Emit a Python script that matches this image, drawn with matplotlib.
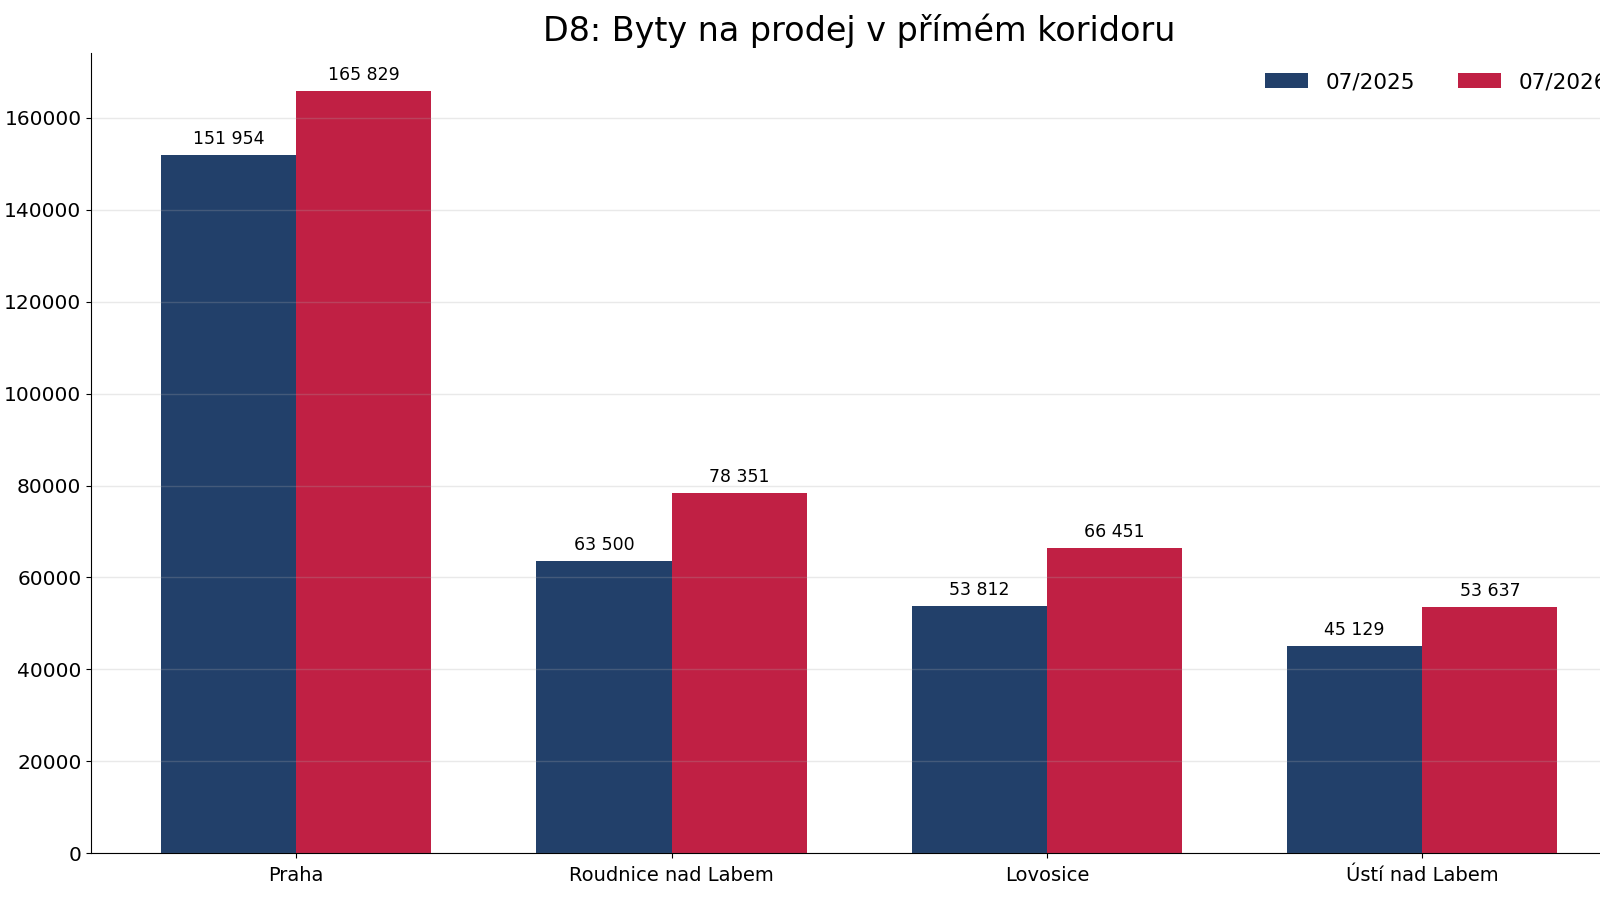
import matplotlib.pyplot as plt
import numpy as np

cities = ["Praha", "Roudnice nad Labem", "Lovosice", "Ústí nad Labem"]
values_2025 = [151954, 63500, 53812, 45129]
values_2026 = [165829, 78351, 66451, 53637]
labels = ["07/2025", "07/2026"]

blue = "#22406a"
red = "#c02044"
width = 0.36

fig = plt.figure(figsize=(16, 9), dpi=100)
ax = fig.add_axes([0.057, 0.052, 0.96, 0.889])

x = np.arange(len(cities))
b1 = ax.bar(x - width / 2, values_2025, width, color=blue, linewidth=0, label=labels[0])
b2 = ax.bar(x + width / 2, values_2026, width, color=red, linewidth=0, label=labels[1])

for bars in (b1, b2):
    for rect in bars:
        h = rect.get_height()
        ax.annotate(f"{int(h):,}".replace(",", " "),
                    xy=(rect.get_x() + rect.get_width() / 2, h),
                    xytext=(0, 5), textcoords="offset points",
                    ha="center", va="bottom", fontsize=12.5)

ax.set_ylim(0, max(values_2026) * 1.05)
ax.set_xticks(x)
ax.set_xticklabels(cities, fontsize=14)
ax.tick_params(axis="y", labelsize=14.5)
ax.tick_params(axis="x", pad=6)
ax.yaxis.grid(True, color="#aaaaaa", alpha=0.25, linewidth=1)
ax.spines["top"].set_visible(False)
ax.spines["right"].set_visible(False)
ax.set_title("D8: Byty na prodej v přímém koridoru", fontsize=24, pad=8.5)
ax.legend(loc="upper right", ncol=2, frameon=False, fontsize=15.5)

fig.savefig("out.png", dpi=100)
